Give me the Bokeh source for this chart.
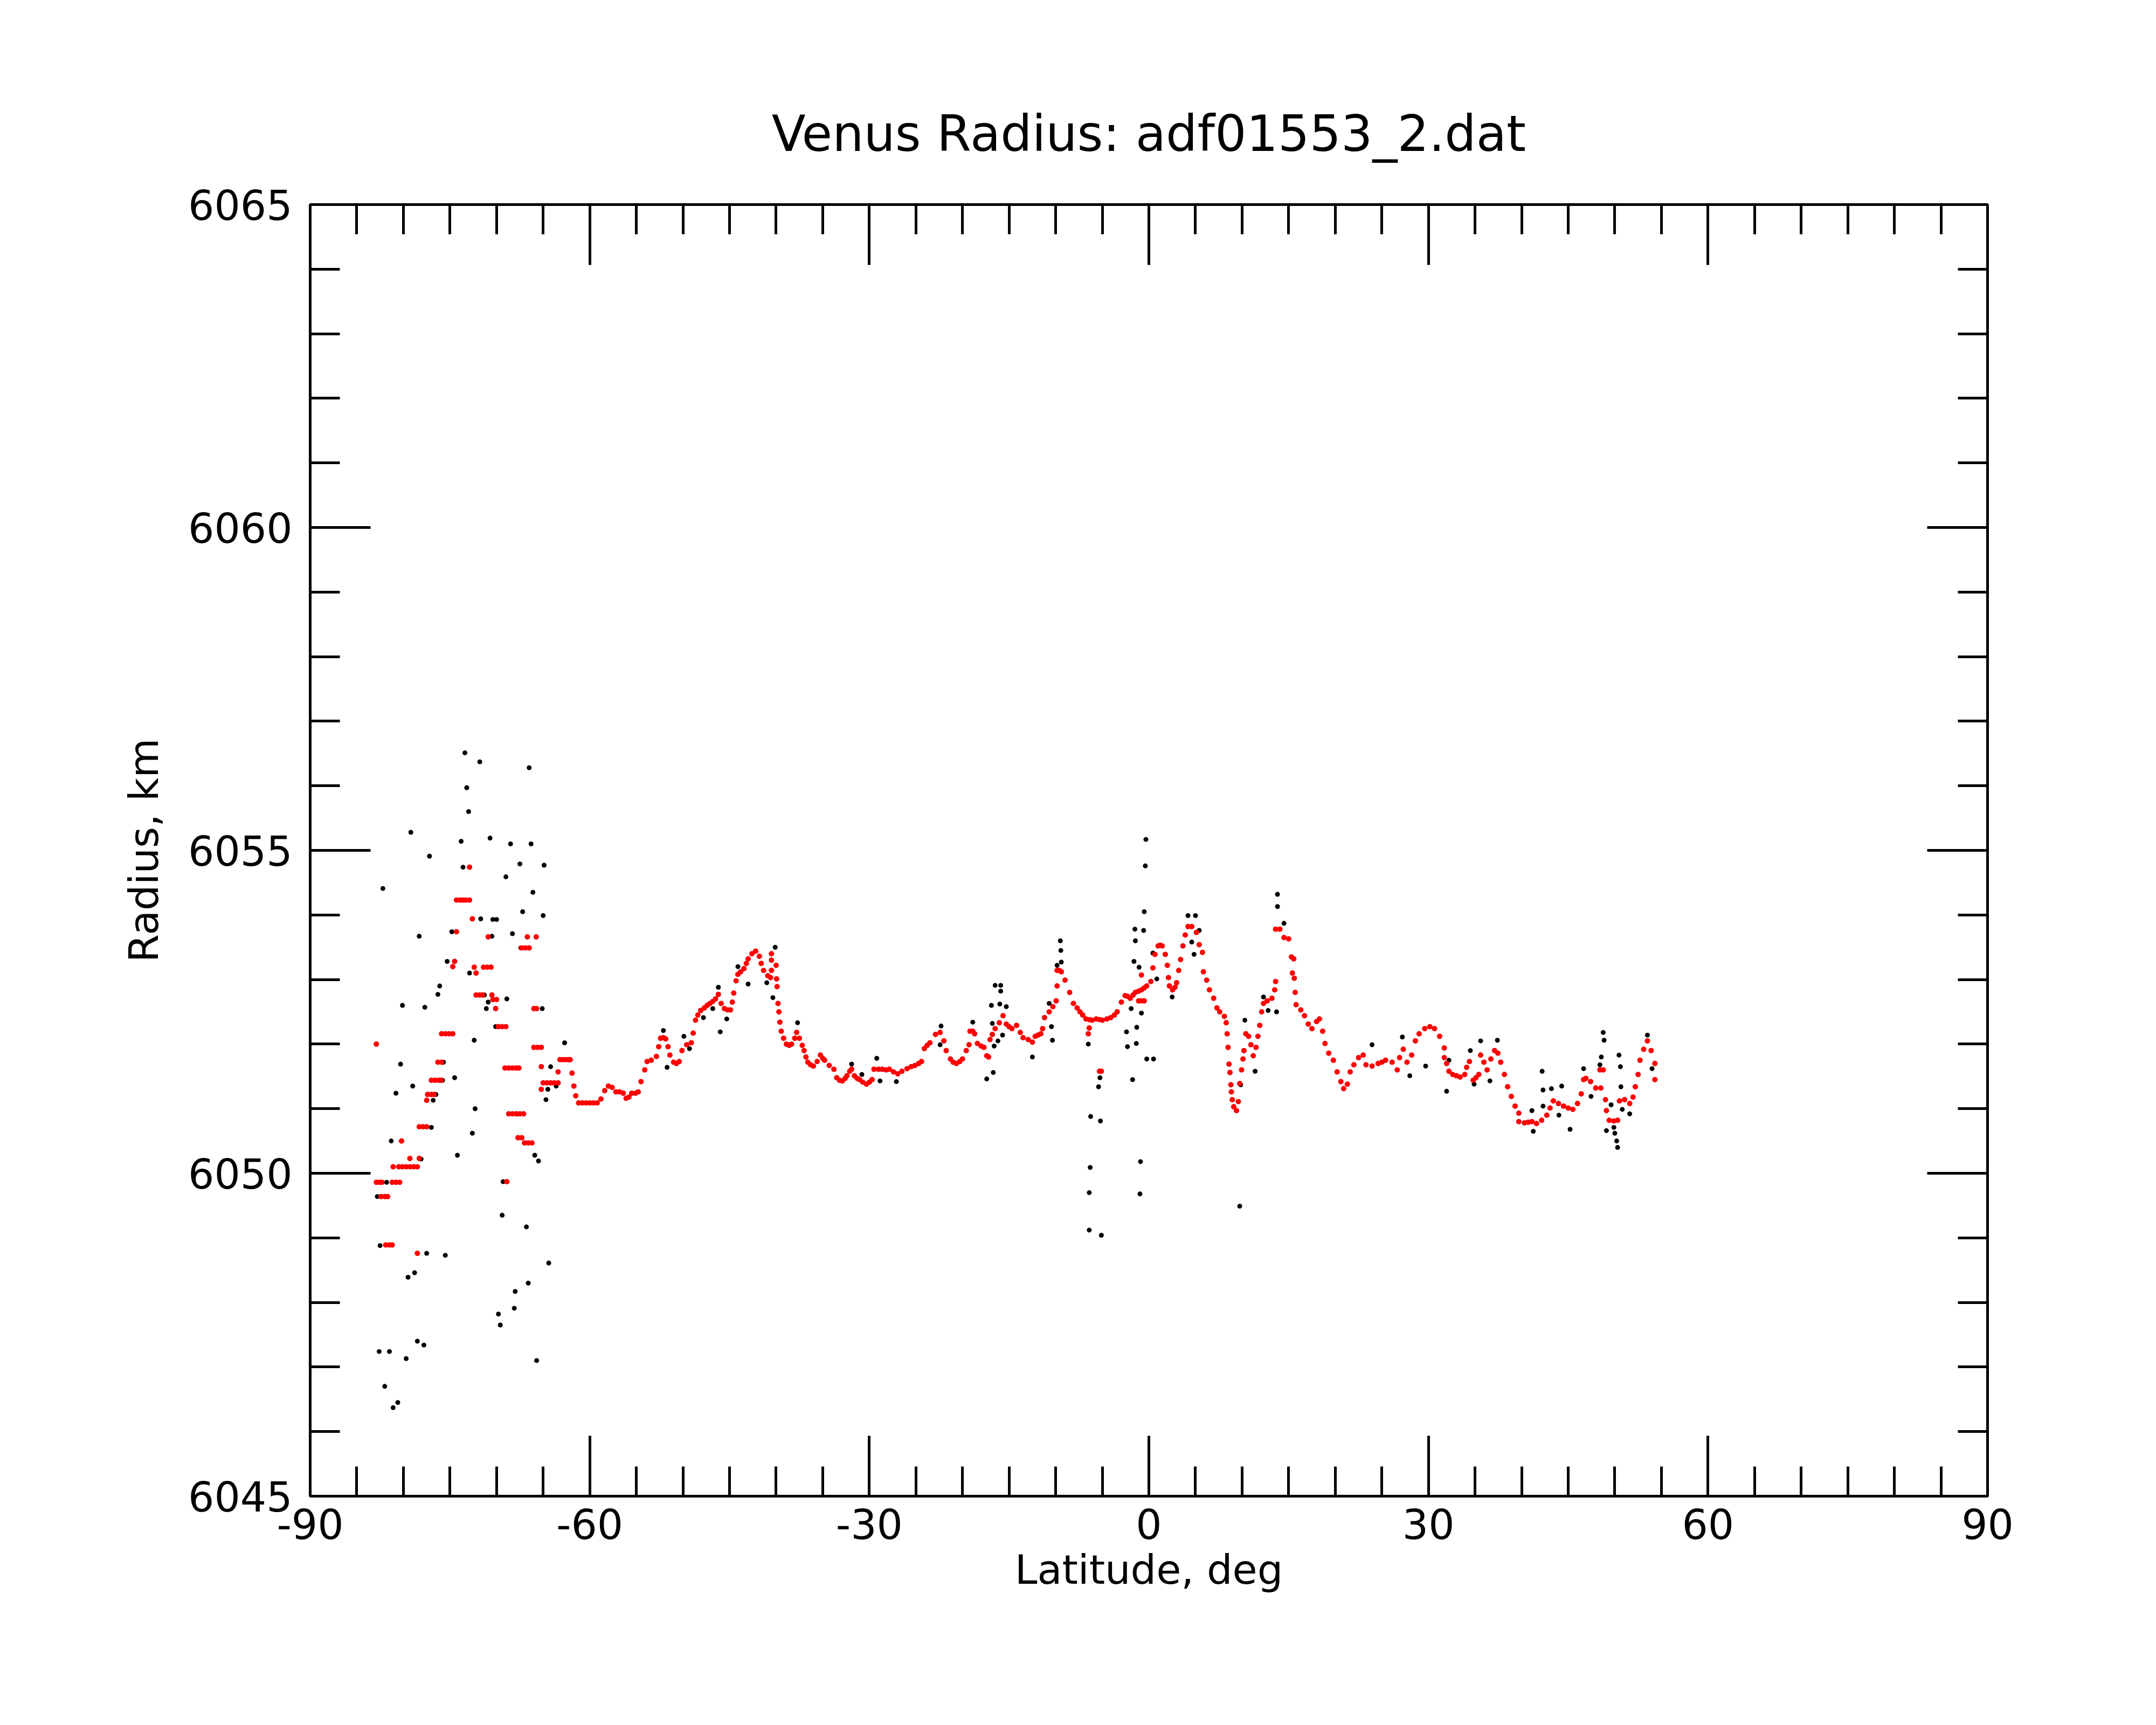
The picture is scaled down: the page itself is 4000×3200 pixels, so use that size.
from bokeh.plotting import figure
from bokeh.models import (Range1d, FixedTicker, LinearAxis, ColumnDataSource,
                          CustomJSTickFormatter, CustomLabelingPolicy)
from bokeh.embed import file_html
from bokeh.resources import INLINE

TITLE = "Venus Radius: adf01553_2.dat"
X_LABEL = "Latitude, deg"
Y_LABEL = "Radius, km"
X_MAJOR = [-90, -60, -30, 0, 30, 60, 90]
X_MINOR = list(range(-90, 91, 5))
Y_MAJOR = [6045, 6050, 6055, 6060, 6065]
Y_MINOR = list(range(6045, 6066, 1))

# smoothed profile (red)
red_lat = [
    -82.9, -82.9, -82.6, -82.3, -82.4, -82.0, -81.7, -81.9, -81.5, -81.2,
    -81.2, -80.8, -80.4, -81.1, -80.5, -80.1, -79.7, -79.3, -78.9, -78.5,
    -80.2, -79.3, -78.5, -78.3, -78.3, -77.9, -77.5, -77.5, -77.4, -77.0,
    -76.7, -77.0, -76.6, -76.2, -75.95, -76.3, -75.9, -75.9, -75.5, -75.1,
    -74.7, -74.7, -74.5, -74.3, -74.3, -73.9, -73.6, -73.3, -72.9, -72.9,
    -72.6, -72.4, -72.2, -72.2, -71.8, -71.5, -71.4, -71.0, -70.6, -70.9,
    -70.5, -70.4, -70.0, -70.1, -69.8, -69.4, -69.0, -69.1, -68.7, -68.3,
    -67.9, -67.6, -68.9, -68.7, -68.3, -67.9, -67.5, -67.1, -67.7, -67.3,
    -67.0, -66.6, -66.2, -67.3, -66.9, -66.5, -66.7, -65.75, -66.0, -65.7,
    -66.0, -65.6, -65.2, -65.2, -65.2, -65.0, -64.6, -64.2, -63.8, -63.4,
    -63.4, -63.2, -62.9, -62.6, -62.3, -62.1, -61.9, -61.7, -61.5, -61.2,
    -60.8, -60.4, -60.0, -59.6, -59.2, -58.8, -58.4, -58.0, -57.6, -57.2,
    -56.8, -56.4, -56.1, -55.8, -55.5, -55.1, -54.8, -54.5, -54.1,
    -53.85, -53.4, -52.85, -52.6, -52.4, -52.1, -51.85, -51.6, -51.4, -51.0,
    -50.7, -50.4, -50.1, -49.6, -49.1, -48.9, -48.65, -48.4, -48.1, -47.7,
    -47.4, -47.1, -46.8, -46.5, -46.2, -45.9, -45.55, -45.2, -44.9, -44.7,
    -44.55, -44.3, -44.1, -43.8, -43.45, -43.2, -43.0, -42.6, -42.2, -41.8,
    -41.6, -41.35, -40.9, -40.6,
    -40.5, -40.5, -40.0, -40.5, -39.95, -39.9, -39.8, -39.7, -39.6, -39.45,
    -39.2, -38.9, -38.6, -38.35, -38.0, -37.8, -37.5, -37.2, -37.0, -36.8,
    -36.6, -36.3, -36.0, -35.6, -35.25, -35.0, -34.8, -34.3, -33.8, -33.5,
    -33.2, -32.9, -32.6, -32.4, -32.1, -31.9, -31.6, -31.3, -31.05, -30.7,
    -30.3, -30.0, -29.7, -29.5, -29.0, -28.6, -28.2, -27.85, -27.4, -26.95,
    -26.5, -25.95, -25.5, -25.1, -24.7, -24.4, -24.1, -23.8, -23.5, -22.9,
    -22.4, -22.0, -21.75, -21.3, -21.0, -20.65, -20.3, -20.0, -19.6, -19.3,
    -19.2,
    -18.9, -18.7, -18.4, -18.0, -17.7, -17.4, -17.2, -17.05, -16.8, -16.5,
    -16.05, -15.65, -15.3, -15.0, -14.7, -14.2, -13.8, -13.5, -12.95, -12.5,
    -12.2, -11.9, -11.6, -11.4, -11.2, -10.7, -10.3, -9.95, -9.85, -9.85,
    -9.6, -9.4, -9.0, -8.5, -8.1, -7.7, -7.4, -7.1, -6.75, -6.4,
    -6.1, -5.65, -5.3, -4.98, -4.5, -4.1, -3.7, -3.4, -2.95, -2.55,
    -2.3, -2.0, -1.7, -1.45, -1.1, -0.8, -0.5, -0.23, 0.21, 0.43,
    0.65, 0.99, 1.2, 1.43, 1.76, 1.98, 2.1, 2.2, 2.54, 2.8,
    2.98, 3.2, 3.4, 3.65, 3.9, 4.2, 4.6, 5.1, 5.4, 5.75,
    5.85, 6.2, 6.5, 6.95, 7.3, 7.6, 8.1, 8.3, 8.4, 8.5,
    8.6, 8.7, 8.8, 8.85, 8.95, 9.1, 9.4, 9.6, 9.75, 9.95,
    10.1, 10.2, 10.4, 10.7, 10.95, 11.2, 11.5, 11.7, 11.9, 12.1,
    12.3, 12.7, 13.2, 13.5, 13.6, 13.6, 14.05, 14.5, 15.0, 15.3,
    15.4,
    -6.5, -6.4, -5.3, -5.1, -0.8, -1.1, -0.8, -0.5,
    15.55, 15.6, 15.7, 15.8, 16.3, 16.7, 17.1, 17.5, 18.0, 18.3,
    18.65, 18.9, 19.3, 19.8, 20.2, 20.6, 20.9, 21.3, 21.6, 22.0,
    22.5, 23.0, 23.3, 23.95, 24.6, 25.0, 25.4, 26.1, 26.65, 26.9,
    27.3, 27.7, 28.2, 28.6, 29.0, 29.6, 30.15, 30.65, 31.2, 31.7,
    31.7, 31.95, 32.2, 32.6, 33.0, 33.4, 33.9, 34.1, 34.4, 34.8,
    35.1, 35.4, 35.6, 35.95, 36.3, 36.7, 37.1, 37.45, 37.75, 38.15,
    38.5, 38.9, 39.3, 39.7, 39.7, 40.3, 40.7, 41.1, 41.6, 42.15,
    42.7, 43.05, 43.4, 43.95, 44.5, 45.0, 45.5, 46.0, 46.4, 46.65,
    46.9, 47.4, 47.95, 48.5, 48.4, 48.75, 49.0, 49.1, 49.4, 49.9,
    50.3, 50.5, 51.05, 51.6, 51.95, 52.2, 52.5, 52.7, 53.1, 53.5,
    53.9, 54.3, 54.3,
]
red_r = [
    6052.0, 6049.86, 6049.86, 6049.86, 6049.64, 6049.64, 6049.64, 6048.89, 6048.89, 6048.89,
    6049.86, 6049.86, 6049.86, 6050.1, 6050.1, 6050.1, 6050.1, 6050.1, 6050.1, 6050.1,
    6050.5, 6050.23, 6048.76, 6050.23, 6050.72, 6050.72, 6050.72, 6051.13, 6051.22, 6051.22,
    6051.22, 6051.44, 6051.44, 6051.44, 6051.44, 6051.72, 6051.72, 6052.16, 6052.16, 6052.16,
    6052.16, 6053.2, 6053.28, 6053.74, 6054.23, 6054.23, 6054.23, 6054.23, 6054.23, 6054.74,
    6053.94, 6053.19, 6053.1, 6052.76, 6052.76, 6052.76, 6053.19, 6053.19, 6053.19, 6053.66,
    6052.76, 6052.69, 6052.69, 6052.55, 6052.27, 6052.27, 6052.27, 6051.63, 6051.63, 6051.63,
    6051.63, 6051.63, 6049.87, 6050.92, 6050.92, 6050.92, 6050.92, 6050.92, 6050.55, 6050.55,
    6050.47, 6050.47, 6050.47, 6053.49, 6053.49, 6053.49, 6053.66, 6053.66, 6052.55, 6052.55,
    6051.95, 6051.95, 6051.95, 6051.65, 6051.3, 6051.4, 6051.4, 6051.4, 6051.4, 6051.4,
    6051.57, 6051.76, 6051.76, 6051.76, 6051.76, 6051.76, 6051.55, 6051.35, 6051.2, 6051.09,
    6051.09, 6051.09, 6051.09, 6051.09, 6051.09, 6051.15, 6051.28, 6051.35, 6051.33, 6051.26,
    6051.26, 6051.24, 6051.16, 6051.18, 6051.24, 6051.24, 6051.26, 6051.42, 6051.6,
    6051.73, 6051.75, 6051.81, 6051.96, 6052.09, 6052.1, 6052.08, 6051.96, 6051.83, 6051.72,
    6051.7, 6051.73, 6051.9, 6051.99, 6052.02, 6052.17, 6052.37, 6052.45, 6052.52, 6052.56,
    6052.6, 6052.63, 6052.66, 6052.7, 6052.77, 6052.63, 6052.55, 6052.53, 6052.53, 6052.65,
    6052.79, 6052.98, 6053.08, 6053.12, 6053.17, 6053.25, 6053.32, 6053.4, 6053.44, 6053.36,
    6053.25, 6053.14, 6053.06, 6053.03,
    6053.4, 6053.3, 6053.22, 6053.14, 6053.01, 6052.89, 6052.63, 6052.5, 6052.34, 6052.2,
    6052.09, 6052.0, 6051.98, 6052.0, 6052.09, 6052.18, 6052.09, 6051.98, 6051.9, 6051.8,
    6051.72, 6051.68, 6051.66, 6051.73, 6051.83, 6051.78, 6051.75, 6051.67, 6051.61, 6051.48,
    6051.44, 6051.43, 6051.47, 6051.51, 6051.58, 6051.61, 6051.51, 6051.47, 6051.45, 6051.41,
    6051.38, 6051.41, 6051.45, 6051.61, 6051.61, 6051.61, 6051.6, 6051.61, 6051.57, 6051.54,
    6051.58, 6051.62, 6051.65, 6051.67, 6051.7, 6051.73, 6051.93, 6051.98, 6052.02, 6052.15,
    6052.18, 6052.05, 6051.9, 6051.77, 6051.72, 6051.7, 6051.73, 6051.77, 6051.9, 6051.99,
    6052.2,
    6052.2, 6052.16, 6052.01, 6051.97, 6051.95, 6051.82, 6051.8, 6052.07, 6052.15, 6052.24,
    6052.33, 6052.44, 6052.31, 6052.27, 6052.24, 6052.29, 6052.18, 6052.1, 6052.07, 6052.03,
    6052.12, 6052.14, 6052.16, 6052.24, 6052.41, 6052.5, 6052.58, 6052.67, 6052.9, 6053.14,
    6053.14, 6053.12, 6052.99, 6052.8, 6052.63, 6052.56, 6052.5, 6052.45, 6052.39, 6052.38,
    6052.37, 6052.39, 6052.38, 6052.37, 6052.39, 6052.41, 6052.45, 6052.5, 6052.65, 6052.75,
    6052.74, 6052.71, 6052.76, 6052.8, 6052.82, 6052.84, 6052.87, 6052.9, 6052.97, 6053.18,
    6053.39, 6053.52, 6053.53, 6053.52, 6053.39, 6053.22, 6053.03, 6052.9, 6052.84, 6052.88,
    6052.95, 6053.14, 6053.31, 6053.52, 6053.69, 6053.82, 6053.82, 6053.73, 6053.54, 6053.42,
    6053.12, 6052.99, 6052.84, 6052.71, 6052.56, 6052.5, 6052.43, 6052.33, 6052.16, 6051.95,
    6051.69, 6051.56, 6051.37, 6051.26, 6051.14, 6051.03, 6050.97, 6051.11, 6051.39, 6051.6,
    6051.77, 6051.9, 6052.16, 6052.12, 6051.99, 6051.82, 6051.95, 6052.12, 6052.29, 6052.5,
    6052.63, 6052.67, 6052.71, 6052.84, 6052.97, 6053.78, 6053.78, 6053.65, 6053.63, 6053.35,
    6053.1,
    6052.16, 6052.25, 6051.58, 6051.58, 6053.07, 6052.67, 6052.67, 6052.67,
    6053.32, 6053.02, 6052.8, 6052.61, 6052.53, 6052.44, 6052.31, 6052.24, 6052.35, 6052.39,
    6052.2, 6052.01, 6051.86, 6051.75, 6051.57, 6051.42, 6051.31, 6051.38, 6051.57, 6051.68,
    6051.79, 6051.83, 6051.68, 6051.66, 6051.7, 6051.72, 6051.75, 6051.72, 6051.6, 6051.79,
    6051.92, 6051.72, 6051.83, 6052.05, 6052.16, 6052.24, 6052.27, 6052.24, 6052.12, 6051.94,
    6051.79, 6051.7, 6051.58, 6051.53, 6051.51, 6051.49, 6051.53, 6051.64, 6051.73, 6051.44,
    6051.48, 6051.53, 6051.83, 6051.72, 6051.6, 6051.77, 6051.9, 6051.86, 6051.72, 6051.53,
    6051.34, 6051.19, 6051.04, 6050.93, 6050.8, 6050.78, 6050.79, 6050.8, 6050.77, 6050.82,
    6050.9, 6051.01, 6051.12, 6051.08, 6051.04, 6051.01, 6050.99, 6051.08, 6051.23, 6051.45,
    6051.47, 6051.42, 6051.32, 6051.32, 6051.6, 6051.6, 6051.14, 6050.97, 6050.82, 6050.81,
    6050.82, 6051.12, 6051.14, 6051.08, 6051.18, 6051.34, 6051.53, 6051.75, 6051.92, 6052.05,
    6051.9, 6051.7, 6051.45,
]

# raw measurements away from the smoothed profile (black)
black_lat = [
    -73.4, -71.8, -66.5, -73.2, -73.0, -79.2, -73.8, -70.7, -68.5, -66.3,
    -77.2, -73.6, -69.0, -67.5, -64.9, -66.1, -82.2, -67.2, -65.0, -71.7,
    -70.4, -70.0, -78.3, -74.8, -70.5, -68.3, -67.4, -75.3, -72.9, -71.4,
    -76.1, -76.3, -71.8, -71.3, -70.9, -71.1, -68.9, -65.1, -80.1, -77.7,
    -70.1, -72.4, -80.3, -75.7, -74.5, -79.0, -75.8, -80.8, -76.5, -76.8,
    -72.3, -64.2, -64.7, -64.5, -63.6, -77.0, -81.3, -72.6, -67.0, -65.9,
    -65.5, -67.7, -78.1, -74.2, -81.8, -82.8, -69.3, -69.4, -66.8, -64.4,
    -82.5, -77.5, -75.5, -78.8, -79.5, -68.0, -66.6, -68.1, -69.8, -69.6,
    -82.6, -81.5, -79.7, -78.5, -77.8, -65.7, -82.0, -80.6, -81.1, -62.7,
    -43.0, -46.0, -45.3, -51.7, -40.35, -40.1, -37.7, -29.2, -28.85, -27.1,
    -22.3, -22.4, -52.1, -49.9, -46.2, -44.1, -41.0, -30.8, -31.9, -47.8,
    -46.8, -49.3,
    -0.32, -0.38, -0.5, -0.56, -1.5, -1.45, -1.6, -1.05, -1.9, -0.8,
    -2.4, -1.3, -2.3, -1.35, -1.75, -0.23, 0.5, -0.9, -0.96, -6.25,
    -5.2, -6.3, -6.4, -6.4, -5.1, -5.4, -5.25, -6.5, 9.75, 13.8,
    13.8, 13.7, -9.5, -9.45, -9.4, -9.85, -10.35, -10.45, -10.7, -12.5,
    -16.5, -15.9, -15.9, -16.0, -16.9, -15.3, -16.8, -15.7, -16.2, -16.6,
    -17.4, -16.7, -18.9, 4.2, 5.0, 4.6, 4.85, 5.4, 2.5, 0.43,
    0.85, 10.3, 11.4, 12.8, 12.3, 9.85, 14.5,
    23.95, 29.7, 28.0, 27.2, 31.95, 32.2, 34.5, 35.6, 37.4, 36.6,
    34.9, 42.2, 42.3, 42.3, 41.1, 41.25, 43.2, 44.3, 44.0, 45.2,
    46.65, 48.75, 48.85, 48.55, 48.4, 47.45, 49.1, 49.9, 50.0, 50.2,
    50.3, 49.6, 50.45, 50.6, 50.65, 51.6, 53.5, 54.0, 50.8,
]
black_r = [
    6056.51, 6056.37, 6056.28, 6055.97, 6055.6, 6055.28, 6055.14, 6055.19, 6055.1, 6055.1,
    6054.91, 6054.74, 6054.59, 6054.79, 6054.77, 6054.35, 6054.41, 6054.05, 6053.99, 6053.94,
    6053.93, 6053.93, 6053.67, 6053.74, 6053.67, 6053.71, 6053.49, 6053.28, 6053.1, 6053.19,
    6052.9, 6052.77, 6052.76, 6052.76, 6052.65, 6052.55, 6052.7, 6052.55, 6052.6, 6052.57,
    6052.27, 6052.06, 6051.69, 6051.72, 6051.48, 6051.35, 6051.44, 6051.24, 6051.22, 6051.13,
    6051.0, 6051.65, 6051.14, 6051.3, 6051.35, 6050.71, 6050.5, 6050.62, 6050.47, 6050.28,
    6050.19, 6050.92, 6050.22, 6050.28, 6049.86, 6049.64, 6049.87, 6049.35, 6049.17, 6048.61,
    6048.88, 6048.76, 6048.73, 6048.46, 6048.39, 6048.17, 6048.3, 6047.91, 6047.82, 6047.65,
    6047.24, 6047.24, 6047.13, 6047.4, 6047.34, 6047.1, 6046.7, 6046.45, 6046.37, 6052.02,
    6052.93, 6052.19, 6052.39, 6051.64, 6052.72, 6053.5, 6052.33, 6051.78, 6051.43, 6051.42,
    6052.28, 6051.99, 6052.21, 6052.12, 6052.88, 6053.2, 6052.95, 6051.53, 6051.69, 6052.41,
    6052.55, 6051.93,
    6055.17, 6054.76, 6054.05, 6053.76, 6053.78, 6053.6, 6053.28, 6053.19, 6052.55, 6052.48,
    6052.19, 6052.26, 6051.96, 6052.01, 6051.45, 6051.77, 6051.77, 6050.18, 6049.68, 6050.88,
    6050.81, 6050.09, 6049.7, 6049.12, 6049.04, 6051.34, 6051.48, 6052.0, 6049.49, 6054.32,
    6054.13, 6052.5, 6053.6, 6053.45, 6053.27, 6053.22, 6052.06, 6052.27, 6052.63, 6051.8,
    6052.91, 6052.91, 6052.82, 6052.62, 6052.6, 6052.58, 6052.32, 6052.14, 6052.05, 6051.97,
    6051.46, 6051.56, 6052.34, 6053.99, 6053.99, 6053.58, 6053.39, 6053.76, 6052.73, 6053.41,
    6053.01, 6052.37, 6051.58, 6052.52, 6052.73, 6051.37, 6053.87,
    6051.99, 6051.66, 6051.51, 6052.11, 6051.27, 6051.75, 6051.9, 6052.05, 6052.06, 6051.43,
    6051.38, 6051.58, 6051.29, 6051.04, 6050.97, 6050.65, 6051.31, 6051.35, 6050.9, 6050.68,
    6051.62, 6052.18, 6052.06, 6051.8, 6051.68, 6051.19, 6050.66, 6050.71, 6050.62, 6050.5,
    6050.4, 6051.06, 6051.83, 6051.65, 6051.34, 6050.92, 6052.14, 6051.62, 6050.99,
]

FONT = "DejaVu Sans"

p = figure(
    x_range=Range1d(-90, 90), y_range=Range1d(6045, 6065),
    frame_width=3112, frame_height=2396,
    min_border_left=575, min_border_right=297,
    min_border_top=379, min_border_bottom=409,
    output_backend="svg", toolbar_location=None,
    title=TITLE, x_axis_label=X_LABEL, y_axis_label=Y_LABEL,
)
p.background_fill_color = "white"
p.border_fill_color = "white"
p.grid.visible = False
p.outline_line_color = "black"
p.outline_line_width = 5

p.title.align = "center"
p.title.text_font = FONT
p.title.text_font_size = "92px"
p.title.text_font_style = "normal"
p.title.text_color = "black"
p.title.standoff = 38

xt = FixedTicker(ticks=X_MAJOR, minor_ticks=X_MINOR)
yt = FixedTicker(ticks=Y_MAJOR, minor_ticks=Y_MINOR)
plain = CustomJSTickFormatter(code="return String(tick);")
no_labels = CustomLabelingPolicy(code="""
try { return new indices.constructor(indices.size, 0); }
catch (e) { return indices; }
""")

def style(ax, labels=True):
    ax.axis_line_width = 5
    ax.axis_line_color = "black"
    ax.major_tick_line_width = 5
    ax.minor_tick_line_width = 5
    ax.major_tick_line_color = "black"
    ax.minor_tick_line_color = "black"
    ax.major_tick_in = 112
    ax.major_tick_out = 0
    ax.minor_tick_in = 55
    ax.minor_tick_out = 0
    ax.major_label_text_font = FONT
    ax.major_label_text_color = "black"
    ax.major_label_text_font_size = "76px"
    ax.axis_label_text_font = FONT
    ax.axis_label_text_font_style = "normal"
    ax.axis_label_text_color = "black"
    ax.axis_label_text_font_size = "75px"
    ax.formatter = plain
    if not labels:
        ax.major_label_policy = no_labels
        ax.major_label_standoff = 0

p.xaxis.ticker = xt
p.yaxis.ticker = yt
style(p.xaxis[0])
style(p.yaxis[0])
p.xaxis[0].major_label_standoff = 23
p.xaxis[0].axis_label_standoff = 10
p.yaxis[0].major_label_standoff = 33
p.yaxis[0].axis_label_standoff = 35

top = LinearAxis(ticker=xt)
right = LinearAxis(ticker=yt)
style(top, labels=False)
style(right, labels=False)
p.add_layout(top, "above")
p.add_layout(right, "right")

black_src = ColumnDataSource(dict(x=red_lat + black_lat, y=red_r + black_r))
red_src = ColumnDataSource(dict(x=red_lat, y=red_r))
p.scatter("x", "y", source=black_src, marker="circle", size=9,
          fill_color="black", line_color=None)
p.scatter("x", "y", source=red_src, marker="circle", size=10,
          fill_color="#ff0000", line_color=None)

open("out.html", "w").write(file_html(p, INLINE))
